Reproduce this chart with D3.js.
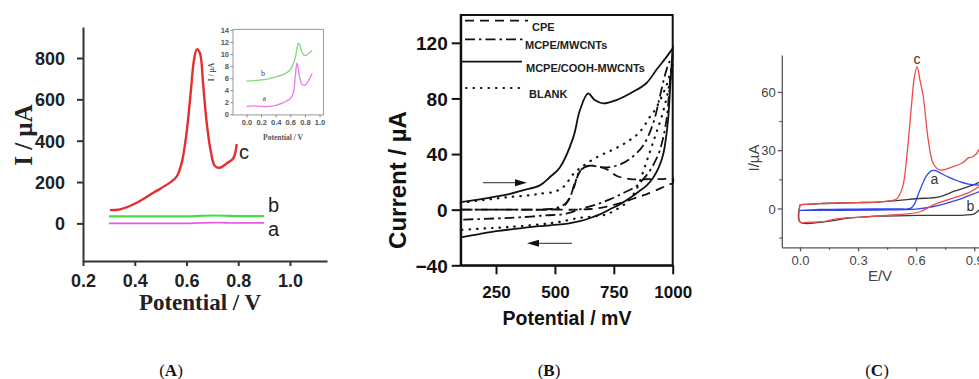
<!DOCTYPE html>
<html>
<head>
<meta charset="utf-8">
<script src="https://cdn.jsdelivr.net/npm/d3@7"></script>
<style>
  body { margin: 0; background: #fff; }
  svg { display: block; }
</style>
</head>
<body>
<svg id="fig" width="979" height="379"></svg>
<script>
// ---------- data: panel A (DPV) ----------
var potA_c = [0.304, 0.343, 0.408, 0.472, 0.536, 0.562, 0.581, 0.600, 0.616, 0.629, 0.640, 0.652, 0.664, 0.677, 0.693, 0.709, 0.729, 0.755, 0.781, 0.794],
    curA_c = [64, 68, 100, 148, 197, 226, 290, 435, 629, 790, 842, 823, 678, 500, 355, 279, 269, 290, 315, 384];
var potA_ab = [0.30, 0.40, 0.50, 0.60, 0.65, 0.70, 0.75, 0.80, 0.90],
    curA_a = [0, 0, 0, 0, 2, 4, 3, 2, 2],
    curA_b = [34, 34, 34, 34, 36, 38, 37, 35, 35];
var tickA_x = [0.2, 0.4, 0.6, 0.8, 1.0],
    tickA_y = [0, 200, 400, 600, 800];

// inset of panel A
var potI = [0, 0.1, 0.2, 0.3, 0.4, 0.5, 0.55, 0.6, 0.64, 0.67, 0.69, 0.71, 0.73, 0.76, 0.79, 0.82, 0.86, 0.9],
    curI_a = [1.3, 1.4, 1.3, 1.3, 1.5, 1.9, 2.2, 2.6, 3.5, 6.5, 8.5, 7.5, 6.0, 5.0, 4.8, 5.0, 5.8, 6.8],
    curI_b = [5.5, 5.6, 5.7, 5.9, 6.2, 6.6, 6.9, 7.4, 8.3, 9.5, 10.8, 11.8, 11.5, 10.3, 9.8, 9.8, 10.2, 10.6];
var tickI_x = [0, 0.2, 0.4, 0.6, 0.8, 1.0],
    tickI_y = [0, 2, 4, 6, 8, 10, 12, 14];

// ---------- data: panel B (CV, mV / uA), forward then reverse scan ----------
var cooh_pf = [100, 200, 300, 366, 436, 479, 521, 578, 606, 641, 669, 705, 761, 832, 888, 931, 970, 1000],
    cooh_if = [5.5, 8, 11, 14, 17.5, 23.5, 30.4, 52, 71.5, 83.6, 78.8, 76.4, 78.8, 84.8, 90.9, 100.6, 109, 116],
    cooh_pr = [1000, 990, 980, 960, 940, 917, 890, 860, 820, 775, 730, 691, 650, 606, 560, 521, 436, 350, 250, 180, 100],
    cooh_ir = [116, 90, 64, 40, 30, 23, 17.5, 13.5, 8.5, 3.8, 0, -3.4, -6, -8.3, -9.8, -10.6, -11.9, -13.5, -15.5, -17.5, -20];
var mwcnt_pf = [100, 200, 300, 400, 480, 520, 549, 578, 606, 648, 705, 761, 818, 874, 917, 945, 966, 985, 1000],
    mwcnt_if = [0, 0, 0, 0, 0.5, 2, 5, 14.6, 28, 31.6, 30.4, 31.6, 36.5, 46, 62, 81, 96, 106, 110],
    mwcnt_pr = [1000, 990, 973, 945, 920, 903, 875, 846, 790, 733, 680, 620, 547, 462, 350, 250, 100],
    mwcnt_ir = [110, 95, 64, 42.5, 33, 28, 22, 17, 12, 7.4, 4, 1, -2.9, -4.1, -5.5, -6.3, -7.2];
var cpe_pf = [100, 200, 300, 400, 480, 530, 564, 585, 620, 662, 719, 761, 818, 903, 960, 1000],
    cpe_if = [0, 0, 0, 0, 0, 1.5, 8.7, 19.6, 30.4, 31.6, 29.2, 24.4, 22, 22, 22, 22.5],
    cpe_pr = [1000, 987, 950, 888, 860, 800, 750, 700, 650, 600, 500, 400, 300, 200, 100],
    cpe_ir = [19, 18.3, 15.5, 11, 9.5, 6, 3.5, 1.5, 0.5, 0, 0, 0, 0, 0, 0];
var blank_pf = [100, 200, 300, 400, 436, 500, 540, 578, 620, 691, 754, 811, 860, 903, 924, 950, 975, 1000],
    blank_if = [5, 7, 9, 10.5, 11.5, 13, 17, 25.6, 31.6, 38.9, 43.8, 49.3, 55.8, 66.7, 71.5, 80, 90, 105],
    blank_pr = [1000, 980, 955, 930, 910, 890, 870, 850, 825, 804, 761, 719, 660, 606, 521, 436, 300, 200, 100],
    blank_ir = [105, 85, 68, 55, 45, 35, 25, 16, 9, 5, 0.2, -3.4, -5, -5.8, -8.7, -10.6, -12.5, -13.5, -14.5];
var legendB = ['CPE', 'MCPE/MWCNTs', 'MCPE/COOH-MWCNTs', 'BLANK'];
var tickB_x = [250, 500, 750, 1000],
    tickB_y = [-40, 0, 40, 80, 120];

// ---------- data: panel C (CV, E/V / uA) ----------
var potC_c_fwd = [0, 0.1, 0.2, 0.3, 0.4, 0.47, 0.5, 0.53, 0.555, 0.575, 0.59, 0.605, 0.62, 0.637, 0.663, 0.689, 0.723, 0.79, 0.84, 0.87, 0.89, 0.91, 0.93, 0.96, 1.0],
    curC_c_fwd = [2, 2.5, 2.8, 3, 3.3, 4, 5, 11, 30, 52, 67, 73, 66, 57.5, 35, 23, 19.8, 21.5, 23.5, 26, 26.5, 28, 31, 34, 37];
var potC_c_rev = [1.0, 0.96, 0.925, 0.87, 0.81, 0.75, 0.689, 0.62, 0.55, 0.465, 0.35, 0.2, 0.12, 0.05, 0, 0],
    curC_c_rev = [16, 13, 11.2, 8, 6, 4, 1.8, -1.7, -2.8, -3.4, -4.3, -5.2, -6.8, -7, -7, 2];
var potC_a_fwd = [0, 0.1, 0.3, 0.5, 0.57, 0.59, 0.61, 0.63, 0.655, 0.68, 0.7, 0.73, 0.77, 0.82, 0.87, 0.93, 1.0],
    curC_a_fwd = [-1, -0.5, -0.3, -0.2, 0, 2, 7, 12, 17, 19.5, 19.5, 18, 16, 14, 12.5, 12, 12];
var potC_a_rev = [1.0, 0.925, 0.81, 0.69, 0.6, 0.4, 0.2, 0],
    curC_a_rev = [11, 8.6, 4.3, 1, -0.3, -0.8, -1, -1];
var potC_b_fwd = [0, 0.1, 0.2, 0.3, 0.4, 0.5, 0.6, 0.72, 0.8, 0.9, 0.925, 1.0],
    curC_b_fwd = [2, 2.5, 2.8, 3, 3.3, 4, 5, 6, 9, 12.3, 13.5, 16];
var potC_b_rev = [1.0, 0.96, 0.925, 0.9, 0.85, 0.6, 0.4, 0.25, 0.15, 0, 0],
    curC_b_rev = [5, 2, -0.8, -2.8, -3.4, -3.6, -4, -5, -6.5, -7, 2];
var tickC_x = [0, 0.3, 0.6, 0.9], minorC_x = [0.15, 0.45, 0.75],
    tickC_y = [0, 30, 60], minorC_y = [-15, 15, 45];

var svg = d3.select('#fig');

function pairs(xs, ys) { return xs.map(function(x, i) { return [x, ys[i]]; }); }

function styleAxis(g, color, width) {
  g.select('.domain').attr('stroke', color).attr('stroke-width', width);
  g.selectAll('.tick line').attr('stroke', color).attr('stroke-width', width);
  g.selectAll('.tick text').attr('fill', color);
}

// ================= Panel A =================
var xA = d3.scaleLinear().domain([0.2, 1.143]).range([83, 327]),
    yA = d3.scaleLinear().domain([-182, 950]).range([261, 27]);
var gA = svg.append('g');

var axA_x = gA.append('g').attr('transform', 'translate(0,261)')
  .call(d3.axisBottom(xA).tickValues(tickA_x).tickFormat(d3.format('.1f')).tickSize(5).tickSizeOuter(0));
styleAxis(axA_x, '#333', 2);
axA_x.selectAll('text').attr('dy', null).attr('y', 26)
  .attr('font-family', 'Liberation Sans, Arial, sans-serif').attr('font-weight', 'bold').attr('font-size', 18).attr('fill', '#222');

var axA_y = gA.append('g').attr('transform', 'translate(83,0)')
  .call(d3.axisLeft(yA).tickValues(tickA_y).tickSize(6).tickSizeOuter(0));
styleAxis(axA_y, '#333', 2);
axA_y.selectAll('text').attr('x', -18).attr('dy', '0.36em')
  .attr('font-family', 'Liberation Sans, Arial, sans-serif').attr('font-weight', 'bold').attr('font-size', 18).attr('fill', '#222');

gA.append('text').attr('transform', 'translate(32,135) rotate(-90)')
  .attr('text-anchor', 'middle').attr('font-family', 'Liberation Serif, Times New Roman, serif')
  .attr('font-weight', 'bold').attr('font-size', 25).attr('fill', '#222').text('I / µA');
gA.append('text').attr('x', 200).attr('y', 310)
  .attr('text-anchor', 'middle').attr('font-family', 'Liberation Serif, Times New Roman, serif')
  .attr('font-weight', 'bold').attr('font-size', 23).attr('fill', '#222').text('Potential / V');

var lineA = d3.line().x(function(d) { return xA(d[0]); }).y(function(d) { return yA(d[1]); })
  .curve(d3.curveMonotoneX);
gA.append('path').datum(pairs(potA_ab, curA_a)).attr('d', lineA)
  .attr('fill', 'none').attr('stroke', '#e060e0').attr('stroke-width', 1.8);
gA.append('path').datum(pairs(potA_ab, curA_b)).attr('d', lineA)
  .attr('fill', 'none').attr('stroke', '#3fe03f').attr('stroke-width', 2.2);
gA.append('path').datum(pairs(potA_c, curA_c)).attr('d', lineA.curve(d3.curveCatmullRom))
  .attr('fill', 'none').attr('stroke', '#e3302f').attr('stroke-width', 2.4);

var labA = [['c', 239, 159], ['b', 268, 212], ['a', 268, 236]];
gA.selectAll('text.lab').data(labA).enter().append('text').attr('class', 'lab')
  .attr('x', function(d) { return d[1]; }).attr('y', function(d) { return d[2]; })
  .attr('font-family', 'Liberation Sans, Arial, sans-serif').attr('font-size', 20).attr('fill', '#222')
  .text(function(d) { return d[0]; });

// inset
var xI = d3.scaleLinear().domain([0, 1]).range([246.5, 319.5]),
    yI = d3.scaleLinear().domain([0, 14]).range([114.3, 30]);
var gI = gA.append('g');
gI.append('rect').attr('x', xI(-0.185)).attr('y', yI(14.1))
  .attr('width', xI(1.055) - xI(-0.185)).attr('height', yI(-0.1) - yI(14.1))
  .attr('fill', 'none').attr('stroke', '#9a9a9a').attr('stroke-width', 1);
var axI_x = gI.append('g').attr('transform', 'translate(0,' + yI(-0.1) + ')')
  .call(d3.axisBottom(xI).tickValues(tickI_x).tickFormat(d3.format('.1f')).tickSize(2.5).tickSizeOuter(0));
axI_x.select('.domain').remove();
axI_x.selectAll('.tick line').attr('stroke', '#888');
axI_x.selectAll('text').attr('dy', null).attr('y', 10)
  .attr('font-family', 'Liberation Sans, Arial, sans-serif').attr('font-weight', 'bold').attr('font-size', 7.5).attr('fill', '#555');
var axI_y = gI.append('g').attr('transform', 'translate(' + xI(-0.185) + ',0)')
  .call(d3.axisLeft(yI).tickValues(tickI_y).tickSize(2.5).tickSizeOuter(0));
axI_y.select('.domain').remove();
axI_y.selectAll('.tick line').attr('stroke', '#888');
axI_y.selectAll('text').attr('x', -4).attr('dy', '0.35em')
  .attr('font-family', 'Liberation Sans, Arial, sans-serif').attr('font-weight', 'bold').attr('font-size', 7.5).attr('fill', '#555');
gI.append('text').attr('transform', 'translate(214,72) rotate(-90)').attr('text-anchor', 'middle')
  .attr('font-family', 'Liberation Serif, serif').attr('font-weight', 'bold').attr('font-size', 7.5).attr('fill', '#555').text('I / µA');
gI.append('text').attr('x', 283).attr('y', 140).attr('text-anchor', 'middle')
  .attr('font-family', 'Liberation Serif, serif').attr('font-weight', 'bold').attr('font-size', 7.5).attr('fill', '#555').text('Potential / V');

var lineI = d3.line().x(function(d) { return xI(d[0]); }).y(function(d) { return yI(d[1]); })
  .curve(d3.curveCatmullRom);
gI.append('path').datum(pairs(potI, curI_b)).attr('d', lineI)
  .attr('fill', 'none').attr('stroke', '#86d486').attr('stroke-width', 1.3);
gI.append('path').datum(pairs(potI, curI_a)).attr('d', lineI)
  .attr('fill', 'none').attr('stroke', '#e77de8').attr('stroke-width', 1.3);
gI.append('text').attr('x', xI(0.2)).attr('y', yI(6.4)).attr('font-family', 'Liberation Serif, serif')
  .attr('font-size', 8).attr('fill', '#444').text('b');
gI.append('text').attr('x', xI(0.22)).attr('y', yI(2.2)).attr('font-family', 'Liberation Serif, serif')
  .attr('font-size', 8).attr('fill', '#444').text('a');

// ================= Panel B =================
var xB = d3.scaleLinear().domain([100, 1000]).range([460.7, 672.7]),
    yB = d3.scaleLinear().domain([-40, 140]).range([265.3, 15]);
var gB = svg.append('g');

gB.append('rect').attr('x', xB(100)).attr('y', yB(140))
  .attr('width', xB(1000) - xB(100)).attr('height', yB(-40) - yB(140))
  .attr('fill', 'none').attr('stroke', '#111').attr('stroke-width', 2);

var axB_x = gB.append('g').attr('transform', 'translate(0,' + yB(-40) + ')')
  .call(d3.axisBottom(xB).tickValues(tickB_x).tickFormat(d3.format('d')).tickSize(9).tickSizeOuter(0));
styleAxis(axB_x, '#111', 2);
axB_x.selectAll('text').attr('dy', null).attr('y', 33)
  .attr('font-family', 'Liberation Sans, Arial, sans-serif').attr('font-weight', 'bold').attr('font-size', 17).attr('fill', '#111');

var axB_y = gB.append('g').attr('transform', 'translate(' + xB(100) + ',0)')
  .call(d3.axisLeft(yB).tickValues(tickB_y).tickSize(9).tickSizeOuter(0));
styleAxis(axB_y, '#111', 2);
axB_y.selectAll('text').attr('x', -13).attr('dy', '0.36em')
  .attr('font-family', 'Liberation Sans, Arial, sans-serif').attr('font-weight', 'bold').attr('font-size', 19).attr('fill', '#111');

gB.append('text').attr('transform', 'translate(406,180) rotate(-90)').attr('text-anchor', 'middle')
  .attr('font-family', 'Liberation Sans, Arial, sans-serif').attr('font-weight', 'bold')
  .attr('font-size', 24).attr('fill', '#111').text('Current / µA');
gB.append('text').attr('x', 567).attr('y', 325).attr('text-anchor', 'middle')
  .attr('font-family', 'Liberation Sans, Arial, sans-serif').attr('font-weight', 'bold')
  .attr('font-size', 19.5).attr('fill', '#111').text('Potential / mV');

var lineB = d3.line().x(function(d) { return xB(d[0]); }).y(function(d) { return yB(d[1]); })
  .curve(d3.curveCatmullRom.alpha(0.5));
var stylesB = [
  {name: legendB[0], pts: pairs(cpe_pf, cpe_if).concat(pairs(cpe_pr, cpe_ir)), dash: '9,6', width: 1.8, cap: 'butt', lx0: 465, lx1: 528, ly: 20.7, tx: 532, ty: 30.5},
  {name: legendB[1], pts: pairs(mwcnt_pf, mwcnt_if).concat(pairs(mwcnt_pr, mwcnt_ir)), dash: '10,4,2.5,4', width: 1.8, cap: 'butt', lx0: 465, lx1: 525, ly: 39.3, tx: 525, ty: 49},
  {name: legendB[2], pts: pairs(cooh_pf, cooh_if).concat(pairs(cooh_pr, cooh_ir)), dash: null, width: 1.8, cap: 'butt', lx0: 460.7, lx1: 522, ly: 61.7, tx: 526, ty: 72},
  {name: legendB[3], pts: pairs(blank_pf, blank_if).concat(pairs(blank_pr, blank_ir)), dash: '0.5,7', width: 2.2, cap: 'round', lx0: 466, lx1: 520, ly: 88, tx: 529, ty: 98}
];
stylesB.forEach(function(s) {
  gB.append('path').datum(s.pts).attr('d', lineB)
    .attr('fill', 'none').attr('stroke', '#111').attr('stroke-width', s.width)
    .attr('stroke-dasharray', s.dash).attr('stroke-linecap', s.cap);
  gB.append('line').attr('x1', s.lx0).attr('x2', s.lx1).attr('y1', s.ly).attr('y2', s.ly)
    .attr('stroke', '#111').attr('stroke-width', s.width)
    .attr('stroke-dasharray', s.dash).attr('stroke-linecap', s.cap);
  gB.append('text').attr('x', s.tx).attr('y', s.ty)
    .attr('font-family', 'Liberation Sans, Arial, sans-serif').attr('font-weight', 'bold')
    .attr('font-size', 11).attr('fill', '#222').text(s.name);
});

// scan direction arrows
function arrow(g, x0, x1, y) {
  var dir = x1 > x0 ? 1 : -1;
  g.append('line').attr('x1', x0).attr('x2', x1 - dir * 9).attr('y1', y).attr('y2', y)
    .attr('stroke', '#555').attr('stroke-width', 1.2);
  g.append('path').attr('d', 'M' + x1 + ',' + y + 'L' + (x1 - dir * 12) + ',' + (y - 3.5) + 'L' + (x1 - dir * 12) + ',' + (y + 3.5) + 'Z')
    .attr('fill', '#111');
}
arrow(gB, 483, 527, 182.7);
arrow(gB, 572, 527, 243.3);

// ================= Panel C =================
var xC = d3.scaleLinear().domain([0, 0.9]).range([800, 974.2]),
    yC = d3.scaleLinear().domain([-20, 79]).range([247.3, 55]);
var gC = svg.append('g');
var c0 = xC(-0.094);

var axC_x = gC.append('g').attr('transform', 'translate(0,247.3)')
  .call(d3.axisBottom(xC.copy().domain([-0.094, 1.05]).range([c0, xC(1.05)])).tickValues(tickC_x).tickFormat(d3.format('.1f')).tickSize(4).tickSizeOuter(0));
styleAxis(axC_x, '#555', 1.3);
axC_x.selectAll('text').attr('dy', null).attr('y', 18)
  .attr('font-family', 'Liberation Sans, Arial, sans-serif').attr('font-size', 13).attr('fill', '#444');
var axC_xm = gC.append('g').attr('transform', 'translate(0,247.3)')
  .call(d3.axisBottom(xC).tickValues(minorC_x).tickSize(2.5).tickFormat(''));
axC_xm.select('.domain').remove();
axC_xm.selectAll('.tick line').attr('stroke', '#555').attr('stroke-width', 1.2);

var axC_y = gC.append('g').attr('transform', 'translate(' + c0 + ',0)')
  .call(d3.axisLeft(yC).tickValues(tickC_y).tickSize(4).tickSizeOuter(0));
styleAxis(axC_y, '#555', 1.3);
axC_y.selectAll('text').attr('x', -6).attr('dy', '0.36em')
  .attr('font-family', 'Liberation Sans, Arial, sans-serif').attr('font-size', 13).attr('fill', '#444');
var axC_ym = gC.append('g').attr('transform', 'translate(' + c0 + ',0)')
  .call(d3.axisLeft(yC).tickValues(minorC_y).tickSize(2.5).tickFormat(''));
axC_ym.select('.domain').remove();
axC_ym.selectAll('.tick line').attr('stroke', '#555').attr('stroke-width', 1.2);

gC.append('text').attr('transform', 'translate(759,158) rotate(-90)').attr('text-anchor', 'middle')
  .attr('font-family', 'Liberation Sans, Arial, sans-serif').attr('font-size', 15).attr('fill', '#444').text('I/µA');
gC.append('text').attr('x', 880).attr('y', 281).attr('text-anchor', 'middle')
  .attr('font-family', 'Liberation Sans, Arial, sans-serif').attr('font-size', 15).attr('fill', '#444').text('E/V');

var lineC = d3.line().x(function(d) { return xC(d[0]); }).y(function(d) { return yC(d[1]); })
  .curve(d3.curveCatmullRom.alpha(0.5));
var seriesC = [
  {fwd: pairs(potC_b_fwd, curC_b_fwd), rev: pairs(potC_b_rev, curC_b_rev), color: '#3a3a3a'},
  {fwd: pairs(potC_a_fwd, curC_a_fwd), rev: pairs(potC_a_rev, curC_a_rev), color: '#3344ee'},
  {fwd: pairs(potC_c_fwd, curC_c_fwd), rev: pairs(potC_c_rev, curC_c_rev), color: '#ef4a4a'}
];
seriesC.forEach(function(s) {
  gC.append('path').datum(s.fwd.concat(s.rev)).attr('d', lineC)
    .attr('fill', 'none').attr('stroke', s.color).attr('stroke-width', 1.3);
});
var labC = [['c', 0.605, 74.5], ['a', 0.695, 12.5], ['b', 0.88, -1.5]];
gC.selectAll('text.lab').data(labC).enter().append('text').attr('class', 'lab')
  .attr('x', function(d) { return xC(d[1]); }).attr('y', function(d) { return yC(d[2]); })
  .attr('text-anchor', 'middle').attr('font-family', 'Liberation Sans, Arial, sans-serif')
  .attr('font-size', 14).attr('fill', '#333').text(function(d) { return d[0]; });

// ================= captions =================
var captions = [['A', 171], ['B', 549], ['C', 877]];
captions.forEach(function(c) {
  var t = svg.append('text').attr('x', c[1]).attr('y', 376).attr('text-anchor', 'middle')
    .attr('font-family', 'Liberation Serif, Times New Roman, serif').attr('font-size', 17).attr('fill', '#111');
  t.append('tspan').text('(');
  t.append('tspan').attr('font-weight', 'bold').text(c[0]);
  t.append('tspan').text(')');
});
</script>
</body>
</html>
